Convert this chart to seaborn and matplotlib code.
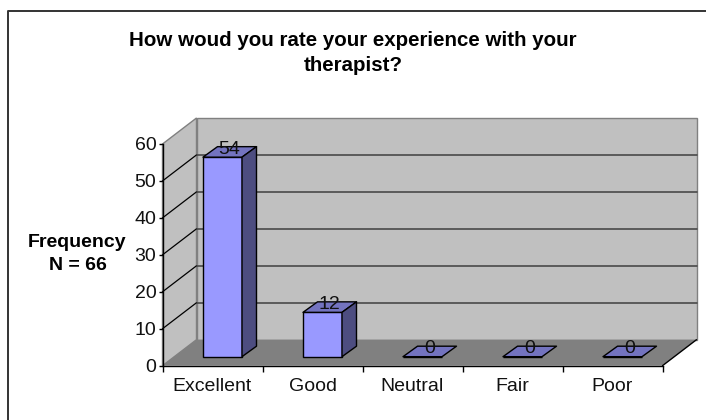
import matplotlib
matplotlib.use('Agg')
import matplotlib.pyplot as plt
import pandas as pd
import seaborn as sns
from matplotlib.lines import Line2D
from matplotlib.patches import Polygon

categories = ['Excellent', 'Good', 'Neutral', 'Fair', 'Poor']
frequency = [54, 12, 0, 0, 0]
y_ticks = [0, 10, 20, 30, 40, 50, 60]

TITLE = 'How woud you rate your experience with your\ntherapist?'
Y_LABEL = 'Frequency\nN = 66'

# depth of the fake 3d box and bars, in data units
WALL_DX, WALL_DY = 0.34, 7.04
BAR_DX, BAR_DY = 0.145, 2.84
BAR_SHIFT_X, BAR_LIFT = 0.10, 2.44
BAR_WIDTH = 0.39

WALL = '#c0c0c0'
FLOOR = '#808080'
FRONT = '#9999ff'
TOP = '#7373bf'
SIDE = '#4d4d80'


def add_box(ax, x0, x1, y1):
    ax.add_patch(Polygon([(x0 + WALL_DX, WALL_DY), (x1 + WALL_DX, WALL_DY), (x1 + WALL_DX, y1 + WALL_DY), (x0 + WALL_DX, y1 + WALL_DY)],
                         fc=WALL, ec='#808080', lw=1.0, zorder=0, clip_on=False))
    ax.add_patch(Polygon([(x0, 0), (x0 + WALL_DX, WALL_DY), (x0 + WALL_DX, y1 + WALL_DY), (x0, y1)],
                         fc=WALL, ec='#808080', lw=1.0, zorder=0, clip_on=False))
    ax.add_patch(Polygon([(x0, 0), (x1, 0), (x1 + WALL_DX, WALL_DY), (x0 + WALL_DX, WALL_DY)],
                         fc=FLOOR, ec='none', zorder=0.5, clip_on=False))
    ax.plot([x1, x1 + WALL_DX], [0, WALL_DY], color='black', lw=1.0, zorder=0.6, clip_on=False)
    for y in y_ticks[1:-1]:
        ax.plot([x0, x0 + WALL_DX], [y, y + WALL_DY], color='black', lw=0.9, zorder=1, clip_on=False)
        ax.plot([x0 + WALL_DX, x1 + WALL_DX], [y + WALL_DY, y + WALL_DY], color='#404040', lw=1.1, zorder=1, clip_on=False)


def main():
    sns.set_theme(style='white')
    plt.rcParams['font.family'] = ['Liberation Sans', 'DejaVu Sans']

    df = pd.DataFrame({'category': categories, 'frequency': frequency})

    fig = plt.figure(figsize=(7.06, 4.2), dpi=100)
    ax = fig.add_axes([162.5 / 706, 1 - 365.7 / 420, 500 / 706, 221.7 / 420])
    ax.patch.set_visible(False)

    sns.barplot(data=df, x='category', y='frequency', ax=ax, color=FRONT, saturation=1,
                width=BAR_WIDTH, bottom=BAR_LIFT, edgecolor='black', linewidth=1.0, zorder=3)

    ax.set_xlim(-0.5, 4.5)
    ax.set_ylim(0, 60)
    add_box(ax, -0.5, 4.5, 60)

    for patch, value in zip(ax.patches, frequency):
        patch.set_x(patch.get_x() + BAR_SHIFT_X)
        x0, x1 = patch.get_x(), patch.get_x() + patch.get_width()
        y0, y1 = BAR_LIFT, BAR_LIFT + value
        ax.add_patch(Polygon([(x0, y1), (x1, y1), (x1 + BAR_DX, y1 + BAR_DY), (x0 + BAR_DX, y1 + BAR_DY)],
                             fc=TOP, ec='black', lw=1.0, zorder=3, joinstyle='round'))
        if value > 0:
            ax.add_patch(Polygon([(x1, y0), (x1 + BAR_DX, y0 + BAR_DY), (x1 + BAR_DX, y1 + BAR_DY), (x1, y1)],
                                 fc=SIDE, ec='black', lw=1.0, zorder=3, joinstyle='round'))
        ax.text((x0 + x1) / 2 + 0.07, y1 + 2.2, str(value), ha='center', va='center',
                fontsize=14, color='#111111', zorder=5)

    ax.set_xlabel('')
    ax.set_ylabel('')
    ax.set_yticks(y_ticks)
    ax.set_xticks(range(len(categories)))
    ax.set_xticklabels(categories)
    ax.set_xticks([i - 0.5 for i in range(len(categories) + 1)], minor=True)
    ax.tick_params(axis='x', which='major', length=0, pad=8.5, labelsize=14, colors='#111111')
    ax.tick_params(axis='x', which='minor', bottom=True, length=4, width=1.0, color='black')
    ax.tick_params(axis='y', left=True, length=3, width=1.0, pad=1.5, labelsize=14, color='black', labelcolor='#111111')
    ax.spines['top'].set_visible(False)
    ax.spines['right'].set_visible(False)
    for side in ['left', 'bottom']:
        ax.spines[side].set_color('black')
        ax.spines[side].set_linewidth(1.0)
        ax.spines[side].set_zorder(2)

    fig.text(353 / 706, 1 - 53 / 420, TITLE, ha='center', va='center', fontsize=14.8,
             fontweight='bold', color='black', linespacing=1.45)
    fig.text(77.5 / 706, 1 - 254 / 420, Y_LABEL, ha='center', va='center', fontsize=14,
             fontweight='bold', color='black', linespacing=1.4)

    # chart frame, only left and top fall inside the crop
    fig.add_artist(Line2D([7.5 / 706, 7.5 / 706, 1], [0, 1 - 10.5 / 420, 1 - 10.5 / 420], color='#333333', lw=1.4))

    fig.savefig('out.png', dpi=100)


if __name__ == '__main__':
    main()
